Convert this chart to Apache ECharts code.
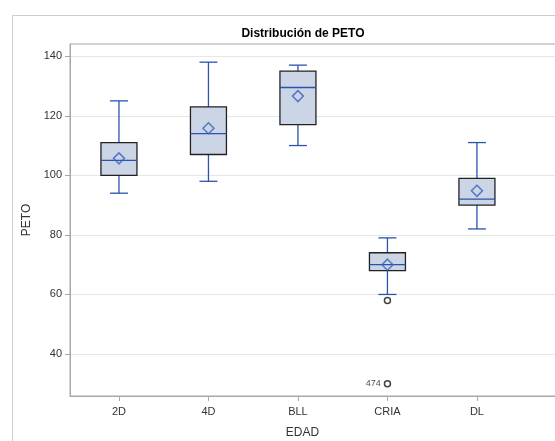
<!DOCTYPE html>
<html>
<head>
<meta charset="utf-8">
<script src="https://cdn.jsdelivr.net/npm/echarts@6/dist/echarts.min.js"></script>
<style>
  html, body { margin: 0; padding: 0; background: #fff; }
  #chart { width: 555px; height: 441px; }
</style>
</head>
<body>
<div id="chart"></div>
<script>
// EDAD groups
var categories = ['2D', '4D', 'BLL', 'CRIA', 'DL'];
// box statistics per group
var whiskerLow = [94, 98, 110, 60, 82];
var q1 = [100, 107, 117, 68, 90];
var median = [105, 114, 129.5, 70, 92];
var q3 = [111, 123, 135, 74, 99];
var whiskerHigh = [125, 138, 137, 79, 111];
var means = [105.7, 115.8, 126.6, 70, 94.8];
// outliers: group index, value, label
var outlierGroup = [3, 3];
var outlierValue = [58, 30];
var outlierLabel = ['', '474'];
var yTicks = [40, 60, 80, 100, 120, 140];

var FONT = '"Liberation Sans", Arial, sans-serif';
var BLUE = '#2b52ad';

var boxData = categories.map(function (c, i) {
  return [i, whiskerLow[i], q1[i], median[i], q3[i], whiskerHigh[i]];
});
var meanData = means.map(function (m, i) { return [i, m]; });
var outlierData = outlierGroup.map(function (g, i) {
  return { value: [g, outlierValue[i]], label: { show: outlierLabel[i] !== '', formatter: outlierLabel[i] } };
});

function renderBox(params, api) {
  var x = api.value(0);
  var lo = api.coord([x, api.value(1)]);
  var b1 = api.coord([x, api.value(2)]);
  var md = api.coord([x, api.value(3)]);
  var b3 = api.coord([x, api.value(4)]);
  var hi = api.coord([x, api.value(5)]);
  var cx = lo[0];
  var half = 18, cap = 9;
  var wStyle = { stroke: BLUE, lineWidth: 1.3 };
  return {
    type: 'group',
    children: [
      { type: 'line', shape: { x1: cx, y1: hi[1], x2: cx, y2: b3[1] }, style: wStyle },
      { type: 'line', shape: { x1: cx, y1: b1[1], x2: cx, y2: lo[1] }, style: wStyle },
      { type: 'line', shape: { x1: cx - cap, y1: hi[1], x2: cx + cap, y2: hi[1] }, style: wStyle },
      { type: 'line', shape: { x1: cx - cap, y1: lo[1], x2: cx + cap, y2: lo[1] }, style: wStyle },
      { type: 'rect', shape: { x: cx - half, y: b3[1], width: half * 2, height: b1[1] - b3[1] },
        style: { fill: '#cbd5e5', stroke: '#222', lineWidth: 1.3 } },
      { type: 'line', shape: { x1: cx - half, y1: md[1], x2: cx + half, y2: md[1] }, style: wStyle }
    ]
  };
}

var chart = echarts.init(document.getElementById('chart'), null, { renderer: 'canvas' });
chart.setOption({
  animation: false,
  backgroundColor: '#fff',
  textStyle: { fontFamily: FONT },
  title: {
    text: 'Distribución de PETO',
    left: 298, top: 23, textAlign: 'center',
    textStyle: { fontFamily: FONT, fontSize: 12, fontWeight: 'bold', color: '#000' }
  },
  graphic: [{
    type: 'rect', left: 10, top: 13, silent: true,
    shape: { width: 600, height: 500 },
    style: { fill: 'none', stroke: '#cccccc', lineWidth: 1 }
  }],
  grid: {
    left: 70, top: 44, right: -10, bottom: 45,
    outerBoundsMode: 'none', containLabel: false,
    show: true, borderColor: '#a8a8a8', borderWidth: 1, backgroundColor: 'transparent'
  },
  xAxis: {
    type: 'value', min: -0.547, max: 4.984,
    name: 'EDAD', nameLocation: 'middle', nameGap: 31,
    nameTextStyle: { fontFamily: FONT, fontSize: 12, color: '#333', padding: [0, 30, 0, 0] },
    axisLine: { show: true, onZero: false, lineStyle: { color: '#a8a8a8' } },
    axisTick: { show: true, customValues: [0, 1, 2, 3, 4], length: 5, lineStyle: { color: '#a8a8a8' } },
    axisLabel: {
      customValues: [0, 1, 2, 3, 4], margin: 10,
      fontFamily: FONT, fontSize: 11, color: '#333',
      formatter: function (v) { return categories[Math.round(v)]; }
    },
    splitLine: { show: false }
  },
  yAxis: {
    type: 'value', min: 25.9, max: 144.1,
    name: 'PETO', nameLocation: 'middle', nameGap: 37, nameRotate: 90,
    nameTextStyle: { fontFamily: FONT, fontSize: 12, color: '#333' },
    axisLine: { show: true, onZero: false, lineStyle: { color: '#a8a8a8' } },
    axisTick: { show: true, customValues: yTicks, length: 5, lineStyle: { color: '#a8a8a8' } },
    axisLabel: { customValues: yTicks, margin: 8, fontFamily: FONT, fontSize: 11, color: '#333' },
    splitLine: { show: true, lineStyle: { color: '#e6e6e6', width: 1 } }
  },
  series: [
    {
      type: 'custom',
      renderItem: renderBox,
      encode: { x: 0, y: [1, 2, 3, 4, 5] },
      data: boxData,
      z: 2
    },
    {
      type: 'scatter',
      symbol: 'diamond', symbolSize: [11, 11],
      itemStyle: { color: 'transparent', borderColor: '#3a5fc0', borderWidth: 1.5 },
      data: meanData,
      z: 3
    },
    {
      type: 'scatter',
      symbol: 'circle', symbolSize: 6,
      itemStyle: { color: '#fff', borderColor: '#111', borderWidth: 1.5 },
      label: { show: false, position: 'left', distance: 3, fontFamily: FONT, fontSize: 9, color: '#222' },
      data: outlierData,
      z: 3
    }
  ]
});
</script>
</body>
</html>
